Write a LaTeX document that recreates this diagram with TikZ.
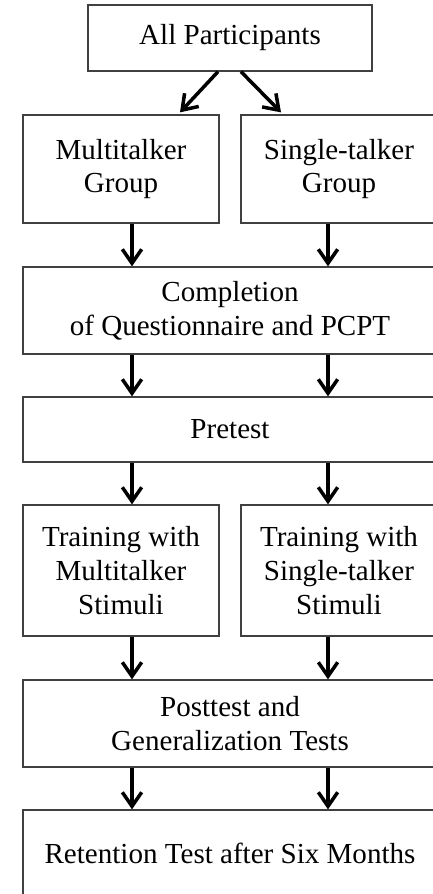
\documentclass[tikz,border=0pt]{standalone}
\usepackage{fontspec}
\setmainfont{Liberation Serif}
\usetikzlibrary{arrows.meta, calc}

\begin{document}
\begin{tikzpicture}[
        x=0.03cm, y=-0.03cm,
        >={Straight Barb[length=4.2mm, width=5.8mm]},
        box/.style={draw=black!75, line width=1.1pt, rectangle, align=center, inner sep=0pt,
            font=\fontsize{24.8}{29}\selectfont},
        narrow/.style={box, minimum width=5.88cm},
        wide/.style={box, minimum width=12.42cm},
        flow/.style={->, line width=3pt, black},
    ]

        % Keep the page to the size of the figure
        \clip (0,0) rectangle (433,894);

        % Draw the boxes
        \node[box, minimum width=8.52cm, minimum height=1.98cm] (all) at (230,38) {All Participants};

        \node[narrow, minimum height=3.24cm] (multi) at (121,169) {Multitalker\\Group};
        \node[narrow, minimum height=3.24cm] (single) at (339,169) {Single-talker\\Group};

        \node[wide, minimum height=2.61cm] (compl) at (230,310.5) {Completion\\of Questionnaire and PCPT};
        \node[wide, minimum height=1.95cm] (pre) at (230,429.5) {Pretest};

        \node[narrow, minimum height=3.93cm] (trainM) at (121,570.5) {Training with\\Multitalker\\Stimuli};
        \node[narrow, minimum height=3.93cm] (trainS) at (339,570.5) {Training with\\Single-talker\\Stimuli};

        \node[wide, minimum height=2.61cm] (post) at (230,723.5) {Posttest and\\Generalization Tests};
        \node[wide, minimum height=2.58cm] (ret) at (230,853) {Retention Test after Six Months};

        % The two columns the arrows run in
        \coordinate (colL) at (132,0);
        \coordinate (colR) at (328,0);

        % Split the participants into the two groups
        \draw[flow] ($(all.south)+(-12,0)$) -- ($(multi.north)+(59,-2)$);
        \draw[flow] ($(all.south)+(11,0)$) -- ($(single.north)+(-58,-2)$);

        % Connect every step with the next one
        \foreach \up/\down/\col in {multi/compl/colL, single/compl/colR,
                compl/pre/colL, compl/pre/colR,
                pre/trainM/colL, pre/trainS/colR,
                trainM/post/colL, trainS/post/colR,
                post/ret/colL, post/ret/colR}
            \draw[flow] (\up.south -| \col) -- (\down.north -| \col);
    \end{tikzpicture}
\end{document}
